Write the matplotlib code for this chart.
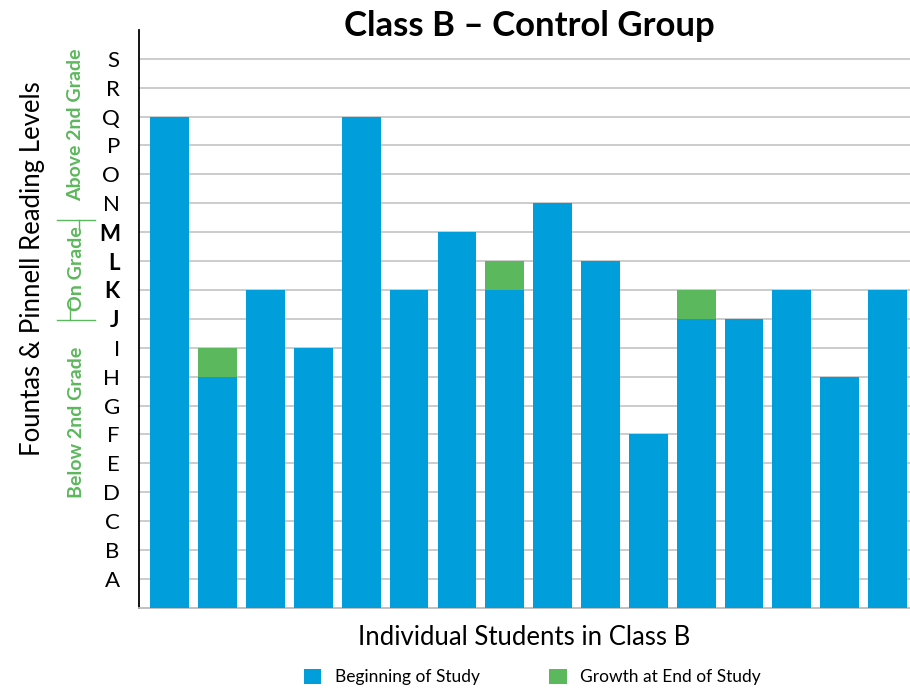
import matplotlib.pyplot as plt
import numpy as np

plt.rcParams['font.family'] = ['Lato', 'DejaVu Sans']

levels = list("ABCDEFGHIJKLMNOPQRS")
# beginning level and end level (as letter index, A = 1)
begin = [17, 8, 11, 9, 17, 11, 13, 11, 14, 12, 6, 10, 10, 11, 8, 11]
end = [17, 9, 11, 9, 17, 11, 13, 12, 14, 12, 6, 11, 10, 11, 8, 11]
bold_levels = {"J", "K", "L", "M"}

blue = "#009FDB"
green = "#5CB85C"

begin = np.array(begin)
growth = np.array(end) - begin
x = np.arange(len(begin))
grew = growth > 0

fig = plt.figure(figsize=(9.1, 6.9), dpi=100)
ax = fig.add_axes([0.153, 0.119, 0.847, 0.8377])

ax.bar(x, begin, width=0.81, color=blue, label="Beginning of Study", zorder=3)
ax.bar(x[grew], growth[grew], bottom=begin[grew], width=0.81, color=green,
       label="Growth at End of Study", zorder=3)

ax.set_xlim(-0.64, 15.47)
ax.set_ylim(0, 20)
ax.set_yticks(np.arange(1, 20))
ax.set_yticklabels(levels, fontsize=16)
for lab in ax.get_yticklabels():
    if lab.get_text() in bold_levels:
        lab.set_fontweight("bold")
ax.tick_params(axis="y", length=0, pad=14)
ax.set_xticks([])
ax.grid(axis="y", color="#c8c8c8", linewidth=1.3, zorder=0)

for s in ["top", "right"]:
    ax.spines[s].set_visible(False)
ax.spines["left"].set_color("black")
ax.spines["left"].set_linewidth(1.3)
ax.spines["bottom"].set_color("#bbbbbb")
ax.spines["bottom"].set_linewidth(1.3)

fig.text(0.582, 0.963, "Class B \u2013 Control Group", ha="center", va="center",
         fontsize=25, fontweight="bold")
ax.set_xlabel("Individual Students in Class B", fontsize=18.5, labelpad=12)
fig.text(0.036, 0.61, "Fountas & Pinnell Reading Levels", rotation=90,
         ha="center", va="center", fontsize=18.5)

# grade band annotations
W, H = 910, 690
def fy(py):
    return 1 - py / H
gc = "#5CB85C"
fig.text(76 / W, fy(125), "Above 2nd Grade", rotation=90, ha="center",
         va="center", color=gc, fontsize=14, fontweight="bold")
fig.text(76 / W, fy(269), "On Grade", rotation=90, ha="center",
         va="center", color=gc, fontsize=14, fontweight="bold")
fig.text(76 / W, fy(422), "Below 2nd Grade", rotation=90, ha="center",
         va="center", color=gc, fontsize=14, fontweight="bold")
for py, vx, vy0, vy1 in [(220, 79, 220, 229), (320, 70, 301, 320)]:
    fig.add_artist(plt.Line2D([57 / W, 95 / W], [fy(py), fy(py)], color=gc, lw=1))
    fig.add_artist(plt.Line2D([vx / W, vx / W], [fy(vy0), fy(vy1)], color=gc, lw=1))

fig.legend(loc="center", bbox_to_anchor=(0.585, fy(677)), ncol=2,
           frameon=False, fontsize=12.5, handlelength=1.0, handleheight=1.0,
           columnspacing=4.0, borderpad=0)

fig.savefig("out.png", dpi=100)
